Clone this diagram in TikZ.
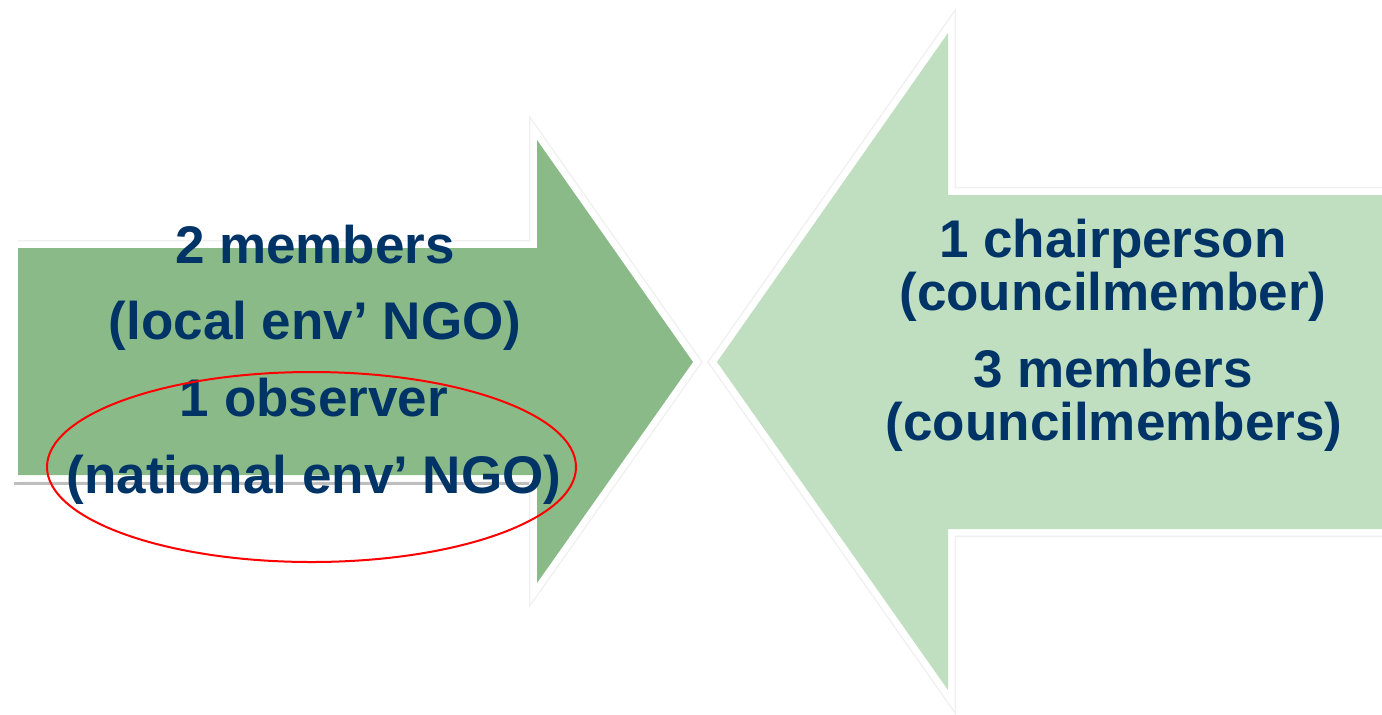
\documentclass[tikz,border=0pt]{standalone}
\usepackage{fontspec}
\setmainfont{Liberation Sans}
\usetikzlibrary{positioning}
\definecolor{shaftgreen}{RGB}{139,186,137}
\definecolor{palegreen}{RGB}{192,222,192}
\definecolor{navy}{RGB}{0,51,102}
\definecolor{slidegray}{RGB}{190,190,190}
\tikzset{
  x=0.5pt,
  y=-0.5pt,
  member text/.style={
    inner sep=0pt,
    anchor=base,
    text=navy,
    font=\fontsize{26.5}{30}\selectfont\bfseries,
  },
  arrow rim/.style={
    draw=black!6,
    line width=8pt,
    postaction={draw=white, line width=6.6pt},
  },
  ring/.style={
    draw=red,
    line width=1pt,
  },
}
\begin{document}
\begin{tikzpicture}
  \useasboundingbox (0,0) rectangle (1382,714);

  % arrows
  \draw[arrow rim] (18,248) -- (537,248) -- (537,140) -- (693,362)
    -- (537,583) -- (537,475) -- (18,475);
  \draw[arrow rim] (1390,195) -- (948,195) -- (948,33) -- (717,362)
    -- (948,690) -- (948,529) -- (1390,529);

  % slide rule under the left arrow
  \coordinate (rule start) at (14,483);
  \coordinate (rule end) at (529,483);
  \draw[slidegray, line width=1.5pt] (rule start) -- (rule end);

  \fill[shaftgreen] (18,248) -- (537,248) -- (537,140) -- (693,362)
    -- (537,583) -- (537,475) -- (18,475) -- cycle;
  \fill[palegreen] (1382,195) -- (948,195) -- (948,33) -- (717,362)
    -- (948,690) -- (948,529) -- (1382,529) -- cycle;

  % left arrow text
  \node[member text] (ngo members) at (315,263) {2 members};
  \node[member text] (local ngo) at (315,339) {(local env’ NGO)};
  \node[member text] (observer) at (314,416) {1 observer};
  \node[member text] (national ngo) at (314,493) {(national env’ NGO)};

  % right arrow text
  \node[member text] (chair) at (1113,257) {1 chairperson};
  \node[member text] (chair role) at (1113,310) {(councilmember)};
  \node[member text] (council members) at (1113,387) {3 members};
  \node[member text] (council role) at (1114,440) {(councilmembers)};

  % highlight round the observer
  \draw[ring] (311.5,467) ellipse [x radius=264.5, y radius=95];
\end{tikzpicture}
\end{document}
